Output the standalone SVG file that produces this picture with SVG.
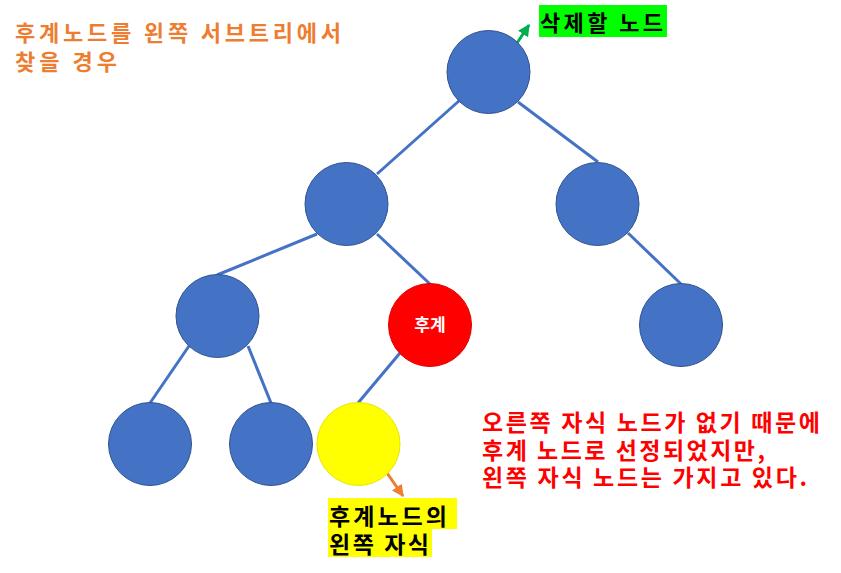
<svg xmlns="http://www.w3.org/2000/svg" width="841" height="573" viewBox="0 0 841 573">
<defs>
<style>
.n{fill:#4472C4;stroke:#2F528F;stroke-width:1}
.e{stroke:#4472C4;stroke-width:3;fill:none}
.t{font-family:"Noto Sans CJK KR","Noto Sans",sans-serif;font-weight:bold}
</style>
<marker id="ag" viewBox="0 0 10 10" refX="9" refY="5" markerWidth="4" markerHeight="4" orient="auto"><path d="M0,0 L10,5 L0,10 z" fill="#00B050"/></marker>
<marker id="ao" viewBox="0 0 10 10" refX="9" refY="5" markerWidth="4" markerHeight="4" orient="auto"><path d="M0,0 L10,5 L0,10 z" fill="#ED7D31"/></marker>
</defs>
<rect width="841" height="573" fill="#fff"/>
<g id="connectors">
<line class="e" x1="460" y1="100" x2="377" y2="174"/>
<line class="e" x1="518" y1="102" x2="598" y2="162"/>
<line class="e" x1="317" y1="234" x2="217" y2="275"/>
<line class="e" x1="377" y1="234" x2="430" y2="284"/>
<line class="e" x1="628" y1="233" x2="681" y2="284"/>
<line class="e" x1="189" y1="346" x2="150" y2="403"/>
<line class="e" x1="248" y1="346" x2="271" y2="403"/>
<line class="e" x1="400" y1="353" x2="358" y2="403"/>
<line x1="517" y1="43" x2="529" y2="25" stroke="#00B050" stroke-width="3" marker-end="url(#ag)"/>
<line x1="387" y1="473" x2="403" y2="496" stroke="#ED7D31" stroke-width="3" marker-end="url(#ao)"/>
</g>
<g id="root"><circle class="n" cx="488.5" cy="72" r="41.5"/></g>
<g id="l"><circle class="n" cx="346.5" cy="204" r="41.5"/></g>
<g id="r"><circle class="n" cx="597.5" cy="204" r="41.5"/></g>
<g id="ll"><circle class="n" cx="217.5" cy="316" r="41.5"/></g>
<g id="succ"><circle cx="430" cy="325" r="41.5" fill="#FF0000" stroke="#E00000" stroke-width="1"/><text class="t" x="430" y="331" font-size="17" fill="#fff" text-anchor="middle">후계</text></g>
<g id="rr"><circle class="n" cx="681" cy="325" r="41.5"/></g>
<g id="lll"><circle class="n" cx="150" cy="444" r="41.5"/></g>
<g id="llr"><circle class="n" cx="271" cy="444" r="41.5"/></g>
<g id="succl"><circle cx="358.5" cy="444" r="41.5" fill="#FFFF00" stroke="#E6E600" stroke-width="1"/></g>
<g id="title"><text class="t" font-size="22" fill="#ED7D31"><tspan x="15" y="41" textLength="326" lengthAdjust="spacing">후계노드를 왼쪽 서브트리에서</tspan><tspan x="15" y="70" textLength="102" lengthAdjust="spacing">찾을 경우</tspan></text></g>
<g id="delLabel"><rect x="539" y="5" width="128" height="32" fill="#00FF00"/><text class="t" x="540" y="31" font-size="22" fill="#000" textLength="123" lengthAdjust="spacing">삭제할 노드</text></g>
<g id="succLabel"><rect x="328" y="498" width="129" height="31" fill="#FFFF00"/><rect x="328" y="529" width="104" height="28" fill="#FFFF00"/><text class="t" font-size="23" fill="#000"><tspan x="329" y="525" textLength="118" lengthAdjust="spacing">후계노드의</tspan><tspan x="329" y="553" textLength="100" lengthAdjust="spacing">왼쪽 자식</tspan></text></g>
<g id="note"><text class="t" font-size="23" fill="#FF0000"><tspan x="482" y="431" textLength="338" lengthAdjust="spacing">오른쪽 자식 노드가 없기 때문에</tspan><tspan x="482" y="459" textLength="283" lengthAdjust="spacing">후계 노드로 선정되었지만,</tspan><tspan x="482" y="486" textLength="325" lengthAdjust="spacing">왼쪽 자식 노드는 가지고 있다.</tspan></text></g>
</svg>
